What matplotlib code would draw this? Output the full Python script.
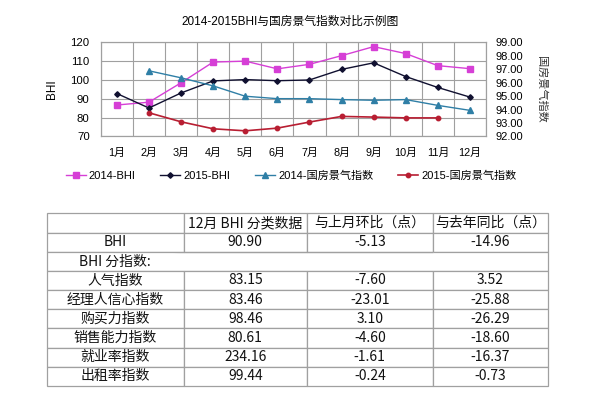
import numpy as np
import matplotlib
matplotlib.use("Agg")
import matplotlib.pyplot as plt

plt.rcParams["font.family"] = ["Liberation Sans", "Noto Sans CJK SC", "DejaVu Sans"]

# ── Data ─────────────────────────────────────────────────────────────────────
months = ["1月", "2月", "3月", "4月", "5月", "6月",
          "7月", "8月", "9月", "10月", "11月", "12月"]

bhi_2014 = [86.7, 88.2, 98.5, 109.5, 110.0, 105.9, 108.3, 112.9, 117.7, 114.0, 107.6, 106.0]
bhi_2015 = [92.8, 85.1, 93.1, 99.5, 100.2, 99.6, 100.0, 105.6, 109.1, 101.8, 96.0, 90.9]
gf_2014 = [np.nan, 96.88, 96.36, 95.76, 94.99, 94.81, 94.81, 94.74, 94.69, 94.74, 94.31, 93.94]
gf_2015 = [np.nan, 93.76, 93.09, 92.57, 92.42, 92.62, 93.07, 93.49, 93.44, 93.38, 93.38, np.nan]

table_header = ["", "12月 BHI 分类数据", "与上月环比（点）", "与去年同比（点）"]
row_names = ["BHI", "BHI 分指数:", "人气指数", "经理人信心指数", "购买力指数",
             "销售能力指数", "就业率指数", "出租率指数"]
col_value = ["90.90", "", "83.15", "83.46", "98.46", "80.61", "234.16", "99.44"]
col_mom = ["-5.13", "", "-7.60", "-23.01", "3.10", "-4.60", "-1.61", "-0.24"]
col_yoy = ["-14.96", "", "3.52", "-25.88", "-26.29", "-18.60", "-16.37", "-0.73"]

C14 = "#D63FD6"
C15 = "#101030"
G14 = "#2F7FA6"
G15 = "#B81E32"
GRID = "#a0a0a0"

# ── Chart ────────────────────────────────────────────────────────────────────
fig = plt.figure(figsize=(6, 3.99), dpi=100)
ax = fig.add_axes([0.168, 0.658, 0.642, 0.236])
ax2 = ax.twinx()

x = np.arange(1, 13)
l1, = ax.plot(x, bhi_2014, "-s", color=C14, lw=1, ms=3.8, label="2014-BHI")
l2, = ax.plot(x, bhi_2015, "-D", color=C15, lw=1, ms=2.8, label="2015-BHI")
l3, = ax2.plot(x, gf_2014, "-^", color=G14, lw=1, ms=4, label="2014-国房景气指数")
l4, = ax2.plot(x, gf_2015, "-o", color=G15, lw=1.2, ms=3.2, label="2015-国房景气指数")

ax.set_xlim(0.5, 12.5)
ax.set_ylim(70, 120)
ax.set_yticks(range(70, 121, 10))
ax.set_xticks(x)
ax.set_xticklabels(months)
ax.set_xticks(np.arange(0.5, 13, 1), minor=True)
ax.grid(True, which="minor", axis="x", color=GRID, lw=0.8)
ax.grid(True, which="major", axis="y", color=GRID, lw=0.8)
ax.tick_params(axis="x", which="both", length=0, pad=8, labelsize=7.8)
ax.tick_params(axis="y", length=0, pad=8, labelsize=8.2)

ax2.set_ylim(92, 99)
ax2.set_yticks(range(92, 100))
ax2.set_yticklabels([f"{v:.2f}" for v in range(92, 100)])
ax2.tick_params(axis="y", length=0, pad=7, labelsize=8)

for a in (ax, ax2):
    for s in a.spines.values():
        s.set_color(GRID)
        s.set_linewidth(0.8)

ax.set_ylabel("BHI", fontsize=8.5)
ax.yaxis.set_label_coords(-0.112, 0.5)
ax2.set_ylabel("国房景气指数", fontsize=8, rotation=270, color="#333333",
               family=["Noto Sans CJK SC"], va="center")
ax2.yaxis.set_label_coords(1.143, 0.5)

fig.text(0.483, 0.945, "2014-2015BHI与国房景气指数对比示例图",
         ha="center", va="center", fontsize=8.5)

fig.legend(handles=[l1, l2, l3, l4], loc="center", bbox_to_anchor=(0.485, 0.56),
           ncol=4, frameon=False, fontsize=8, handlelength=1.8,
           handletextpad=0.3, columnspacing=2.2)

# ── Table ────────────────────────────────────────────────────────────────────
tax = fig.add_axes([0.078, 0.033, 0.835, 0.432])
tax.axis("off")
cells = [table_header] + [[r, v, m, y] for r, v, m, y in
                          zip(row_names, col_value, col_mom, col_yoy)]
widths = [137, 123, 126, 115]
widths = [w / sum(widths) for w in widths]
tbl = tax.table(cellText=cells, colWidths=widths, bbox=[0, 0, 1, 1],
                cellLoc="center")
tbl.auto_set_font_size(False)
for (r, c), cell in tbl.get_celld().items():
    cell.set_edgecolor(GRID)
    cell.set_linewidth(0.9)
    cell.set_text_props(fontsize=10, color="#111111",
                        family=["Noto Sans CJK SC", "DejaVu Sans"])
    if r == 2:
        cell.visible_edges = {0: "LTB", 1: "TB", 2: "TB", 3: "RTB"}[c]

fig.savefig("out.png", dpi=100)
